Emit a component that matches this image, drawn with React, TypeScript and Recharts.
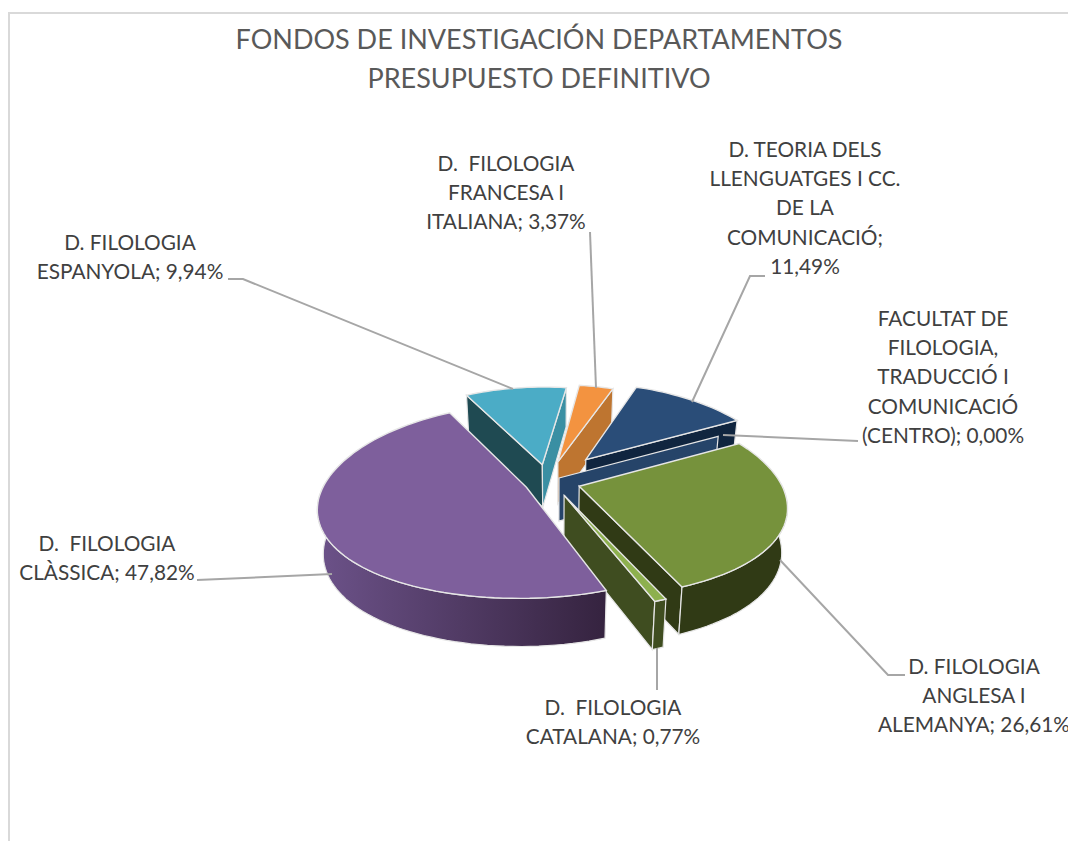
import React from "react";
import { PieChart, Pie } from "recharts";

const categories = [
  "D. TEORIA DELS LLENGUATGES I CC. DE LA COMUNICACIÓ",
  "FACULTAT DE FILOLOGIA, TRADUCCIÓ I COMUNICACIÓ (CENTRO)",
  "D. FILOLOGIA ANGLESA I ALEMANYA",
  "D.  FILOLOGIA CATALANA",
  "D.  FILOLOGIA CLÀSSICA",
  "D. FILOLOGIA ESPANYOLA",
  "D.  FILOLOGIA FRANCESA I ITALIANA",
];
const values = [11.49, 0, 26.61, 0.77, 47.82, 9.94, 3.37];

// %v is where the percentage goes
const labelLines = [
  ["D. TEORIA DELS", "LLENGUATGES I CC.", "DE LA", "COMUNICACIÓ;", "%v"],
  ["FACULTAT DE", "FILOLOGIA,", "TRADUCCIÓ I", "COMUNICACIÓ", "(CENTRO); %v"],
  ["D. FILOLOGIA", "ANGLESA I", "ALEMANYA; %v"],
  ["D.  FILOLOGIA", "CATALANA; %v"],
  ["D.  FILOLOGIA", "CLÀSSICA; %v"],
  ["D. FILOLOGIA", "ESPANYOLA; %v"],
  ["D.  FILOLOGIA", "FRANCESA I", "ITALIANA; %v"],
];
const titleLines = ["FONDOS DE INVESTIGACIÓN DEPARTAMENTOS", "PRESUPUESTO DEFINITIVO"];

const data = categories.map((name, i) => ({ name, value: values[i] }));

const FONT = "Lato, 'Open Sans', sans-serif";

// look of each slice
const topColors = ["#2A4D78", "#264469", "#76923C", "#8DB04E", "#7E5F9C", "#4BACC6", "#F39340"];
const wallColors = ["#10253F", "#264469", "#303A15", "#3F4D20", "#6C5289", "#1F4A52", "#BE7530"];
const sideColors = ["#10253F", "#264469", "#303A15", "#3F4D20", "#6C5289", "#3A8FA3", "#BE7530"];
const explode = [
  [32, 38.3],
  [4, -2.2],
  [23.7, -19.5],
  [8.75, -38.4],
  [-28, -21.6],
  [-13, 26.8],
  [3, 33.7],
];
const drawOrder = [6, 0, 5, 1, 2, 3, 4];

// where each label and its leader line sit
const labelCenters = [
  [805, 148.5],
  [943, 317.5],
  [974, 665.5],
  [613, 706.5],
  [107, 542.5],
  [130, 241.5],
  [506, 162.5],
];
const leaders = [
  [[765, 276], [750, 276], [692, 402]],
  [[858, 441], [723, 435]],
  [[905, 675], [888, 675], [780, 560]],
  [[657, 690], [657, 648]],
  [[197, 580], [332, 574]],
  [[228, 279], [243, 279], [513, 389]],
  [[590, 232], [596, 388]],
];

const FOCAL_X = 1000;
const FOCAL_Y = 1391;
const TILT = 0.463;
const DEPTH = 43;
const EDGE = "#e6e6e6";

function project(cx: number, cy: number, u: number, v: number, low: boolean) {
  const sx = FOCAL_X / (FOCAL_X + v);
  const sy = FOCAL_Y / (FOCAL_Y + v);
  const shrink = low ? 0.975 : 1;
  return {
    x: cx + u * sx * shrink,
    y: cy - v * TILT * sy * shrink + (low ? DEPTH * sy : 0),
  };
}

function toPath(pts: { x: number; y: number }[]) {
  return "M" + pts.map((p) => `${p.x.toFixed(1)},${p.y.toFixed(1)}`).join("L") + "Z";
}

function Slice3D(props: any) {
  const { cx, cy, startAngle, endAngle, outerRadius, name } = props;
  const i = categories.indexOf(name);
  const [ex, ey] = explode[i];
  const at = (deg: number, low: boolean) => {
    const a = (deg * Math.PI) / 180;
    return project(cx, cy, ex + outerRadius * Math.cos(a), ey + outerRadius * Math.sin(a), low);
  };
  const apex = project(cx, cy, ex, ey, false);
  const apexLow = project(cx, cy, ex, ey, true);

  const arcAngles: number[] = [];
  const steps = Math.max(2, Math.ceil((startAngle - endAngle) / 2));
  for (let k = 0; k <= steps; k++) arcAngles.push(startAngle + ((endAngle - startAngle) * k) / steps);

  const top = [apex, ...arcAngles.map((a) => at(a, false))];
  const mid = at((startAngle + endAngle) / 2, false);

  const wallVisible = (deg: number) => {
    if (startAngle === endAngle) return true;
    const p = at(deg, false);
    const dir = p.x >= apex.x ? 1 : -1;
    return ((p.x - apex.x) * (mid.y - apex.y) - (p.y - apex.y) * (mid.x - apex.x)) * dir < 0;
  };
  const radial = (deg: number) => toPath([apex, at(deg, false), at(deg, true), apexLow]);

  // only the part of the rim that faces the viewer
  const front = arcAngles.filter((a) => Math.sin((a * Math.PI) / 180) < 0.02);
  const rim = front.length > 1
    ? toPath([...front.map((a) => at(a, false)), ...[...front].reverse().map((a) => at(a, true))])
    : null;
  const gradId = `rim-${i}`;
  const isClassica = i === 4;

  return (
    <g>
      {isClassica && (
        <defs>
          <linearGradient id={gradId} x1="0" y1="0" x2="1" y2="0">
            <stop offset="0%" stopColor="#6C5289" />
            <stop offset="100%" stopColor="#35233F" />
          </linearGradient>
        </defs>
      )}
      {wallVisible(startAngle) && (
        <path d={radial(startAngle)} fill={wallColors[i]} stroke={EDGE} strokeWidth={1.2} />
      )}
      {startAngle !== endAngle && wallVisible(endAngle) && (
        <path d={radial(endAngle)} fill={sideColors[i]} stroke={EDGE} strokeWidth={1.2} />
      )}
      {rim && (
        <path d={rim} fill={isClassica ? `url(#${gradId})` : wallColors[i]} stroke={EDGE} strokeWidth={1.2} />
      )}
      {startAngle !== endAngle && (
        <path d={toPath(top)} fill={topColors[i]} stroke={EDGE} strokeWidth={1.4} />
      )}
    </g>
  );
}

function renderLabel(props: any) {
  const i = categories.indexOf(props.name);
  const pct = values[i].toFixed(2).replace(".", ",") + "%";
  const [x, y] = labelCenters[i];
  return (
    <g key={i}>
      <polyline
        points={leaders[i].map(([a, b]) => `${a},${b}`).join(" ")}
        fill="none"
        stroke="#a6a6a6"
        strokeWidth={2}
      />
      {labelLines[i].map((line, n) => (
        <text
          key={n}
          x={x}
          y={y + n * 29.2}
          textAnchor="middle"
          dominantBaseline="central"
          fontFamily={FONT}
          fontSize={20.8}
          fill="#404040"
          style={{ whiteSpace: "pre" }}
        >
          {line.replace("%v", pct)}
        </text>
      ))}
    </g>
  );
}

export default function App() {
  return (
    <div style={{ position: "relative", width: 1068, height: 841, overflow: "hidden" }}>
      <style>{"body{margin:0}"}</style>
      <div
        style={{
          position: "absolute",
          left: 8,
          top: 12,
          width: 1060,
          height: 829,
          borderTop: "2px solid #d9d9d9",
          borderLeft: "2px solid #d9d9d9",
          boxSizing: "border-box",
        }}
      />
      <div style={{ position: "absolute", left: 0, top: 0 }}>
        <PieChart width={1068} height={841} margin={{ top: 0, right: 0, bottom: 0, left: 0 }}>
          {titleLines.map((line, n) => (
            <text
              key={line}
              x={539}
              y={38 + n * 39.5}
              textAnchor="middle"
              dominantBaseline="central"
              fontFamily={FONT}
              fontSize={27}
              fill="#595959"
            >
              {line}
            </text>
          ))}
          {drawOrder.map((idx, n) => {
            const shape = (p: any) => (p.name === categories[idx] ? <Slice3D {...p} /> : <g />);
            return (
              <Pie
                key={idx}
                data={data}
                dataKey="value"
                nameKey="name"
                cx={555}
                cy={477}
                outerRadius={199}
                startAngle={70.1}
                endAngle={-289.9}
                stroke="none"
                isAnimationActive={false}
                shape={shape}
                activeShape={shape}
                inactiveShape={shape}
                labelLine={false}
                label={n === drawOrder.length - 1 ? renderLabel : false}
              />
            );
          })}
        </PieChart>
      </div>
    </div>
  );
}
